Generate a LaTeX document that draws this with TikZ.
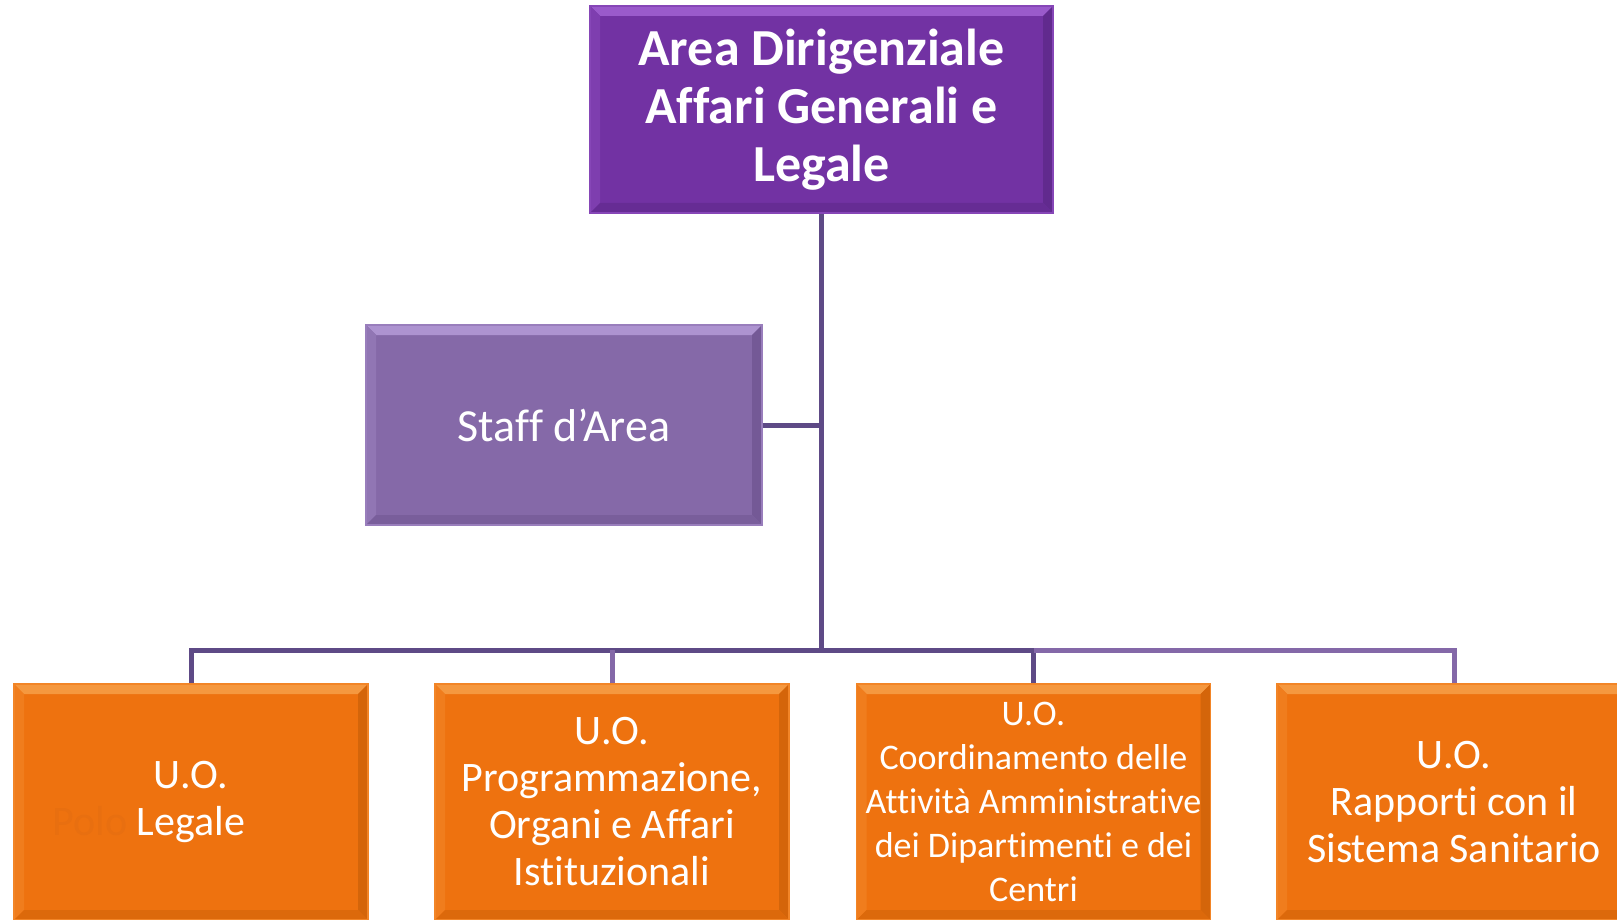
\documentclass[tikz,border=0pt]{standalone}
\usepackage{fontspec}
\setmainfont{Carlito}[Ligatures=NoCommon]
\definecolor{purA}{HTML}{7232A3}
\definecolor{purAl}{HTML}{9A5ACB}
\definecolor{purAd}{HTML}{612A8E}
\definecolor{purB}{HTML}{8569A8}
\definecolor{purBl}{HTML}{AD93D0}
\definecolor{purBd}{HTML}{745996}
\definecolor{orgA}{HTML}{EE720F}
\definecolor{orgAl}{HTML}{F5983F}
\definecolor{orgAd}{HTML}{D4650A}
\definecolor{polocol}{HTML}{E86F10}
\definecolor{lineD}{HTML}{5E4A86}
\definecolor{lineL}{HTML}{8468A8}
\tikzset{
  bev/.style n args={3}{fill=#1, draw=#2!50!#1, line width=1.2pt, inner sep=0pt,
    text=white, align=center,
    path picture={
      \fill[#2] (path picture bounding box.north west) -- (path picture bounding box.north east)
        -- ([shift={(-10pt,-10pt)}]path picture bounding box.north east)
        -- ([shift={(10pt,-10pt)}]path picture bounding box.north west) -- cycle;
      \fill[#1!70!#2] (path picture bounding box.north west) -- ([shift={(10pt,-10pt)}]path picture bounding box.north west)
        -- ([shift={(10pt,10pt)}]path picture bounding box.south west) -- (path picture bounding box.south west) -- cycle;
      \fill[#3] (path picture bounding box.north east) -- ([shift={(-10pt,-10pt)}]path picture bounding box.north east)
        -- ([shift={(-10pt,10pt)}]path picture bounding box.south east) -- (path picture bounding box.south east) -- cycle;
      \fill[#3!70!#1] (path picture bounding box.south west) -- ([shift={(10pt,10pt)}]path picture bounding box.south west)
        -- ([shift={(-10pt,10pt)}]path picture bounding box.south east) -- (path picture bounding box.south east) -- cycle;
    }},
  topbox/.style={bev={purA}{purAl}{purAd}, minimum width=463pt, minimum height=207pt,
    font=\fontsize{52}{58}\selectfont\bfseries},
  staffbox/.style={bev={purB}{purBl}{purBd}, minimum width=396pt, minimum height=200pt,
    font=\fontsize{46}{54}\selectfont},
  unitbox/.style={bev={orgA}{orgAl}{orgAd}, minimum width=354pt, minimum height=236pt,
    font=\fontsize{42}{47}\selectfont},
  cd/.style={draw=lineD, line width=5pt, line join=miter},
  cl/.style={draw=lineL, line width=5pt, line join=miter},
}
\begin{document}
\begin{tikzpicture}[x=1pt,y=-1pt]
\useasboundingbox (0,0) rectangle (1617,920);
\clip (0,0) rectangle (1617,920);
\node[topbox] (top) at (821.5,109.5) {Area Dirigenziale\\Affari Generali e\\Legale};
\node[staffbox] (staff) at (564,425) {Staff d’Area};
\node[unitbox] (b1) at (191,802) {U.O.\\\llap{\textcolor{polocol}{Polo }}Legale};
\node[unitbox] (b2) at (612,802) {U.O.\\Programmazione,\\Organi e Affari\\Istituzionali};
\node[unitbox, font=\fontsize{36}{44}\selectfont] (b3) at (1033.5,802) {U.O.\\Coordinamento delle\\Attività Amministrative\\dei Dipartimenti e dei\\Centri};
\node[unitbox] (b4) at (1454,802) {U.O.\\Rapporti con il\\Sistema Sanitario};
\coordinate (hub) at (821.5,650);
\draw[cd] (top.south) -- (hub);
\draw[cd] (staff.east) -- (staff.east -| top.south);
\draw[cd] (b1.north) |- (hub);
\draw[cl] (b2.north) -- (b2.north |- hub);
\draw[cd] (b3.north) |- (hub);
\draw[cl] (b4.north) |- (b3.north |- hub);
\end{tikzpicture}
\end{document}
